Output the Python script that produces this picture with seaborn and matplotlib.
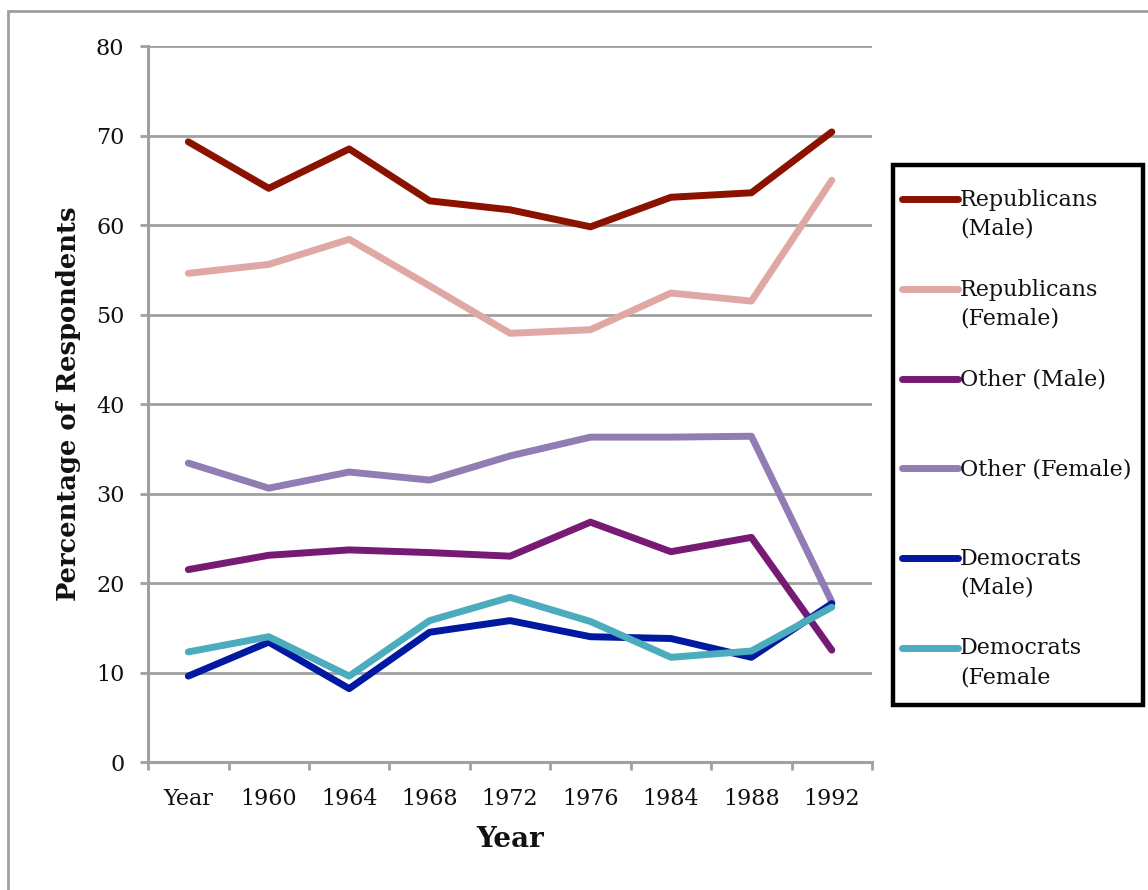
import numpy as np
import pandas as pd
import matplotlib
matplotlib.use("Agg")
import matplotlib.pyplot as plt
import seaborn as sns
from matplotlib.lines import Line2D
from matplotlib.patches import Rectangle
from matplotlib.legend_handler import HandlerLine2D


# Data
years = ["Year", "1960", "1964", "1968", "1972", "1976", "1984", "1988", "1992"]

rep_male = [69.3, 64.1, 68.5, 62.7, 61.7, 59.8, 63.1, 63.6, 70.4]
rep_female = [54.6, 55.6, 58.4, 53.2, 47.9, 48.3, 52.4, 51.5, 65.0]
other_male = [21.5, 23.1, 23.7, 23.4, 23.0, 26.8, 23.5, 25.1, 12.5]
other_female = [33.4, 30.6, 32.4, 31.5, 34.2, 36.3, 36.3, 36.4, 17.9]
dem_male = [9.6, 13.4, 8.2, 14.5, 15.8, 14.0, 13.8, 11.7, 17.7]
dem_female = [12.3, 14.0, 9.6, 15.8, 18.4, 15.7, 11.7, 12.4, 17.3]

series = ["Republicans (Male)", "Republicans (Female)", "Other (Male)",
          "Other (Female)", "Democrats (Male)", "Democrats (Female)"]
legend_labels = ["Republicans\n(Male)", "Republicans\n(Female)", "Other (Male)\n ",
                 "Other (Female)\n ", "Democrats\n(Male)", "Democrats\n(Female"]
colors = ["#8c1200", "#e0a8a4", "#761a73", "#917cb3", "#0019a0", "#4bacbe"]

values = [rep_male, rep_female, other_male, other_female, dem_male, dem_female]

# Long-form table for seaborn
rows = []
for name, vals in zip(series, values):
    for yr, v in zip(years, vals):
        rows.append({"Year": yr, "Percent": v, "Group": name})
df = pd.DataFrame(rows)


# Legend handle sits on the first line of a two-line label
class TopLineHandler(HandlerLine2D):
    def create_artists(self, legend, orig_handle, xdescent, ydescent,
                       width, height, fontsize, trans):
        arts = super().create_artists(legend, orig_handle, xdescent, ydescent,
                                      width, height, fontsize, trans)
        for a in arts:
            a.set_ydata(np.asarray(a.get_ydata()) + 0.72 * fontsize)
        return arts


sns.set_theme(style="white")
plt.rcParams["font.family"] = ["DejaVu Serif"]
grid_gray = "#a0a0a0"

fig = plt.figure(figsize=(11.48, 8.90), dpi=100)
ax = fig.add_axes([0.129, 0.1438, 0.6306, 0.8045])

sns.lineplot(data=df, x="Year", y="Percent", hue="Group", hue_order=series,
             palette=dict(zip(series, colors)), sort=False, linewidth=5.0,
             ax=ax)

ax.set_ylim(0, 80)
ax.set_xlim(-0.5, len(years) - 0.5)
ax.set_yticks(range(0, 81, 10))
ax.set_xticks(range(len(years)))
ax.set_xticklabels(years)
ax.set_xticks(np.arange(-0.5, len(years), 1.0), minor=True)

ax.yaxis.grid(True, color=grid_gray, linewidth=2.0)
ax.xaxis.grid(False)
ax.set_axisbelow(True)
for side in ["top", "right"]:
    ax.spines[side].set_visible(False)
for side in ["left", "bottom"]:
    ax.spines[side].set_color(grid_gray)
    ax.spines[side].set_linewidth(2.2)

ax.tick_params(axis="y", which="major", left=True, length=6, width=2,
               color=grid_gray, pad=11, labelsize=16, labelcolor="#111111")
ax.tick_params(axis="x", which="major", bottom=False, length=0, pad=19,
               labelsize=16, labelcolor="#111111")
ax.tick_params(axis="x", which="minor", bottom=True, length=6, width=2,
               color=grid_gray)

ax.set_xlabel("Year", fontsize=20, fontweight="bold", labelpad=11,
              color="#111111")
ax.set_ylabel("Percentage of Respondents", fontsize=18.5, fontweight="bold",
              labelpad=11, color="#111111")

# Legend to the right, framed by its own box
handles, _ = ax.get_legend_handles_labels()
ax.get_legend().remove()
leg = ax.legend(handles[:len(series)], legend_labels, loc="upper left",
                bbox_to_anchor=(902 / 1148, 1 - 189 / 890),
                bbox_transform=fig.transFigure, borderaxespad=0, borderpad=0,
                fontsize=16, frameon=False, handlelength=2.5,
                handletextpad=0.1, labelspacing=1.75,
                handler_map={Line2D: TopLineHandler()})
for t in leg.get_texts():
    t.set_linespacing(1.4)
    t.set_color("#111111")

fig.add_artist(Rectangle((893 / 1148, 1 - 705 / 890), 250 / 1148, 540 / 890,
                         transform=fig.transFigure, fill=False,
                         edgecolor="black", linewidth=3.2))

# Thin gray outer border of the chart area
fig.add_artist(Rectangle((8 / 1148, -0.1), 1.2, 1.1 - 11 / 890,
                         transform=fig.transFigure, fill=False,
                         edgecolor=grid_gray, linewidth=2))

fig.savefig("out.png", dpi=100)
